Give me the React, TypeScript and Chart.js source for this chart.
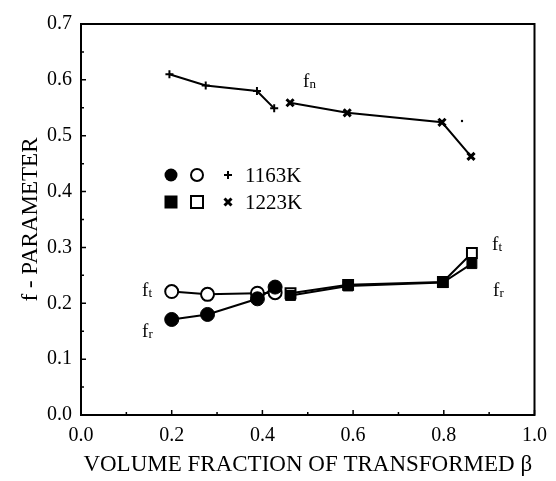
import React, { useEffect, useRef } from "react";
import { Chart, registerables } from "chart.js";
Chart.register(...registerables);

const xTickValues = [0, 0.2, 0.4, 0.6, 0.8, 1.0];
const yTickValues = [0, 0.1, 0.2, 0.3, 0.4, 0.5, 0.6, 0.7];
const xMinor = [0.1, 0.3, 0.5, 0.7, 0.9];
const yMinor = [0.05, 0.15, 0.25, 0.35, 0.45, 0.55, 0.65];

const fn1163X = [0.195, 0.275, 0.388, 0.426];
const fn1163Y = [0.61, 0.59, 0.58, 0.549];
const fn1223X = [0.461, 0.587, 0.796, 0.86];
const fn1223Y = [0.559, 0.541, 0.524, 0.463];
const c1163X = [0.2, 0.279, 0.389, 0.428];
const ft1163Y = [0.221, 0.216, 0.218, 0.219];
const fr1163Y = [0.171, 0.18, 0.208, 0.229];
const s1223X = [0.462, 0.589, 0.798, 0.862];
const ft1223Y = [0.218, 0.233, 0.238, 0.29];
const fr1223Y = [0.214, 0.231, 0.237, 0.271];

const legendRows = ["1163K", "1223K"];
const xTitle = "VOLUME FRACTION OF TRANSFORMED β";
const yTitle = "f - PARAMETER";

const SERIF = "'Liberation Serif', 'DejaVu Serif', serif";

const pts = (xs: number[], ys: number[]) => xs.map((x, i) => ({ x, y: ys[i] }));

const extrasPlugin = {
  id: "extras",
  afterDraw(chart: any) {
    const ctx = chart.ctx;
    const { left, right, top, bottom } = chart.chartArea;
    const xs = chart.scales.x;
    const ys = chart.scales.y;
    ctx.save();
    ctx.strokeStyle = "#000";
    ctx.lineWidth = 2;
    ctx.beginPath();
    ctx.moveTo(left, top);
    ctx.lineTo(right, top);
    ctx.lineTo(right, bottom);
    ctx.lineTo(left, bottom);
    ctx.closePath();
    ctx.stroke();
    ctx.lineWidth = 1.5;
    ctx.beginPath();
    xTickValues.forEach((v) => {
      const p = xs.getPixelForValue(v);
      ctx.moveTo(p, bottom);
      ctx.lineTo(p, bottom - 5);
    });
    xMinor.forEach((v) => {
      const p = xs.getPixelForValue(v);
      ctx.moveTo(p, bottom);
      ctx.lineTo(p, bottom - 3);
    });
    yTickValues.forEach((v) => {
      const p = ys.getPixelForValue(v);
      ctx.moveTo(left, p);
      ctx.lineTo(left + 5, p);
    });
    yMinor.forEach((v) => {
      const p = ys.getPixelForValue(v);
      ctx.moveTo(left, p);
      ctx.lineTo(left + 3, p);
    });
    ctx.stroke();

    // legend
    const lx = [171, 197, 228];
    const ly = [175, 202];
    ctx.fillStyle = "#000";
    ctx.lineWidth = 2;
    ctx.beginPath();
    ctx.arc(lx[0], ly[0], 6.5, 0, Math.PI * 2);
    ctx.fill();
    ctx.beginPath();
    ctx.arc(lx[1], ly[0], 6, 0, Math.PI * 2);
    ctx.stroke();
    ctx.beginPath();
    ctx.moveTo(lx[2] - 4, ly[0]);
    ctx.lineTo(lx[2] + 4, ly[0]);
    ctx.moveTo(lx[2], ly[0] - 4);
    ctx.lineTo(lx[2], ly[0] + 4);
    ctx.stroke();
    ctx.fillRect(lx[0] - 6.5, ly[1] - 6.5, 13, 13);
    ctx.strokeRect(lx[1] - 6, ly[1] - 6, 12, 12);
    ctx.lineWidth = 3;
    ctx.beginPath();
    ctx.moveTo(lx[2] - 3.5, ly[1] - 3.5);
    ctx.lineTo(lx[2] + 3.5, ly[1] + 3.5);
    ctx.moveTo(lx[2] + 3.5, ly[1] - 3.5);
    ctx.lineTo(lx[2] - 3.5, ly[1] + 3.5);
    ctx.stroke();
    ctx.font = "21px " + SERIF;
    ctx.textBaseline = "alphabetic";
    ctx.textAlign = "left";
    ctx.fillText(legendRows[0], 245, ly[0] + 7);
    ctx.fillText(legendRows[1], 245, ly[1] + 7);

    // annotations f with subscripts
    const lab = (x: number, y: number, sub: string) => {
      ctx.font = "19px " + SERIF;
      ctx.textBaseline = "alphabetic";
      ctx.fillText("f", x, y);
      ctx.font = "13px " + SERIF;
      ctx.fillText(sub, x + 6.5, y + 1);
    };
    lab(303, 87, "n");
    lab(142, 296, "t");
    lab(142, 337, "r");
    lab(492, 250, "t");
    lab(493, 296, "r");
    ctx.beginPath();
    ctx.arc(462, 121, 1.2, 0, Math.PI * 2);
    ctx.fill();
    ctx.restore();
  },
};

export default function App() {
  const ref = useRef<HTMLCanvasElement>(null);
  useEffect(() => {
    if (!ref.current) return;
    const line = { borderColor: "#000", borderWidth: 2, showLine: true, tension: 0 };
    const chart = new Chart(ref.current, {
      type: "scatter",
      data: {
        datasets: [
          {
            ...line,
            data: pts(fn1163X, fn1163Y),
            pointStyle: "cross",
            pointRadius: 4,
            pointBorderWidth: 2,
            pointBorderColor: "#000",
            backgroundColor: "#000",
          },
          {
            ...line,
            data: pts(fn1223X, fn1223Y),
            pointStyle: "crossRot",
            pointRadius: 5,
            pointBorderWidth: 3,
            pointBorderColor: "#000",
            backgroundColor: "#000",
          },
          {
            ...line,
            data: pts(c1163X, fr1163Y),
            pointStyle: "circle",
            pointRadius: 7,
            pointBorderWidth: 1,
            pointBackgroundColor: "#000",
            pointBorderColor: "#000",
          },
          {
            ...line,
            data: pts(c1163X, ft1163Y),
            pointStyle: "circle",
            pointRadius: 6.5,
            pointBorderWidth: 2,
            pointBackgroundColor: "#fff",
            pointBorderColor: "#000",
          },
          {
            ...line,
            data: pts(s1223X, fr1223Y),
            pointStyle: "rect",
            pointRadius: 7,
            pointBorderWidth: 1,
            pointBackgroundColor: "#000",
            pointBorderColor: "#000",
          },
          {
            ...line,
            data: pts(s1223X, ft1223Y),
            pointStyle: "rect",
            pointRadius: 7,
            pointBorderWidth: 2,
            pointBackgroundColor: "#fff",
            pointBorderColor: "#000",
          },
        ],
      },
      options: {
        animation: false,
        responsive: false,
        maintainAspectRatio: false,
        layout: { padding: { left: 0, top: 24, right: 21, bottom: 0 } },
        plugins: { legend: { display: false }, tooltip: { enabled: false } },
        scales: {
          x: {
            type: "linear",
            min: 0,
            max: 1,
            afterBuildTicks: (s: any) => {
              s.ticks = xTickValues.map((v) => ({ value: v }));
            },
            afterFit: (s: any) => {
              s.height = 66;
            },
            grid: { display: false, drawTicks: false },
            border: { display: false },
            ticks: {
              color: "#000",
              padding: 9,
              font: { family: SERIF, size: 20 },
              callback: (v: any) => Number(v).toFixed(1),
            },
            title: {
              display: true,
              text: xTitle,
              color: "#000",
              font: { family: SERIF, size: 23 },
              padding: { top: 0, bottom: 2 },
            },
          },
          y: {
            type: "linear",
            min: 0,
            max: 0.7,
            afterBuildTicks: (s: any) => {
              s.ticks = yTickValues.map((v) => ({ value: v }));
            },
            afterFit: (s: any) => {
              s.width = 81;
            },
            grid: { display: false, drawTicks: false },
            border: { display: false },
            ticks: {
              color: "#000",
              padding: 9,
              font: { family: SERIF, size: 20 },
              callback: (v: any) => Number(v).toFixed(1),
            },
            title: {
              display: true,
              text: yTitle,
              color: "#000",
              font: { family: SERIF, size: 23 },
              padding: { top: 17, bottom: 0 },
            },
          },
        },
      },
      plugins: [extrasPlugin],
    } as any);
    return () => chart.destroy();
  }, []);
  return (
    <div style={{ position: "absolute", left: 0, top: 0, width: 556, height: 481, background: "#fff" }}>
      <canvas ref={ref} width={556} height={481} style={{ display: "block" }} />
    </div>
  );
}
